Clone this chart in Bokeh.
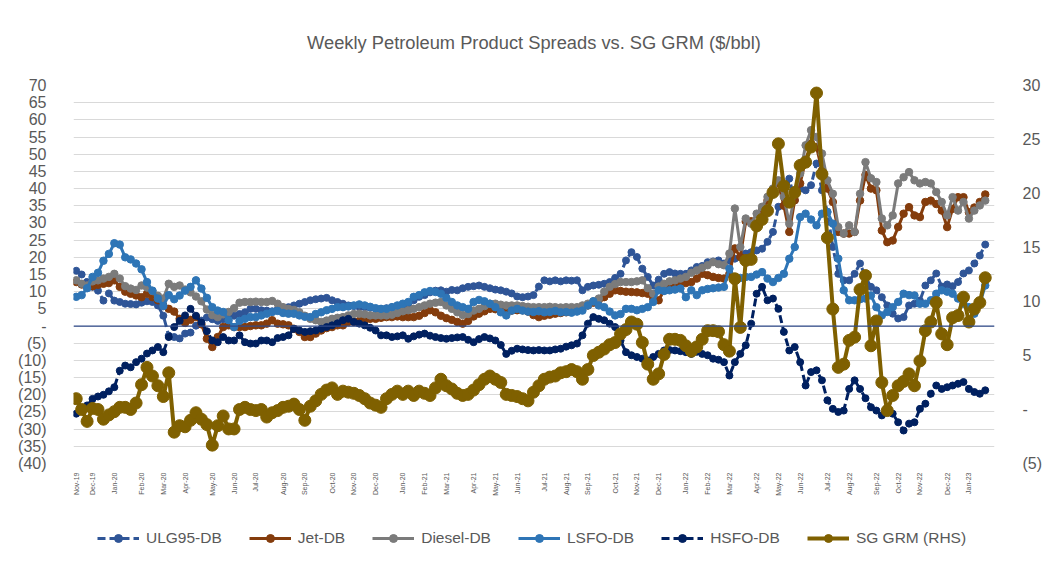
import numpy as np
import pandas as pd
from bokeh.plotting import figure
from bokeh.layouts import column
from bokeh.models import (Range1d, LinearAxis, FixedTicker, Span, Legend, LegendItem,
                          ColumnDataSource)
from bokeh.embed import file_html
from bokeh.resources import INLINE

# ---------------- data ----------------
start_date = "2019-11-13"
n_weeks = 168

month_labels = ["Nov-19", "Dec-19", "Jan-20", "Feb-20", "Mar-20", "Apr-20", "May-20", "Jun-20",
                "Jul-20", "Aug-20", "Sep-20", "Oct-20", "Nov-20", "Dec-20", "Jan-20", "Feb-21",
                "Mar-21", "Apr-21", "May-21", "Jun-21", "Jul-21", "Aug-21", "Sep-21", "Oct-21",
                "Nov-21", "Dec-21", "Jan-22", "Feb-22", "Mar-22", "Apr-22", "May-22", "Jun-22",
                "Jul-22", "Aug-22", "Sep-22", "Oct-22", "Nov-22", "Dec-22", "Jan-23"]

left_ticks = list(range(-40, 75, 5))
right_ticks = list(range(-5, 35, 5))

ulg95 = [16.1, 15.0, 12.8, 11.4, 10.3, 7.4, 9.5, 7.4, 7.0, 6.5,
         6.4, 6.3, 6.8, 7.2, 7.0, 6.0, 3.0, -2.8, -3.2, -3.6,
         -2.2, -1.9, 0.1, 1.6, 2.5, 2.0, 1.5, 2.0, 2.5, 3.0,
         3.5, 4.0, 5.0, 5.0, 4.6, 4.5, 4.3, 4.8, 5.0, 5.5,
         6.0, 6.5, 7.0, 7.5, 7.8, 8.0, 8.2, 7.5, 7.0, 6.5,
         6.0, 5.8, 5.6, 5.5, 5.3, 5.0, 5.0, 5.2, 5.5, 5.8,
         6.0, 6.3, 7.5, 8.5, 9.0, 9.8, 10.3, 10.4, 10.0, 10.5,
         10.4, 11.0, 11.4, 11.6, 11.8, 11.4, 11.0, 10.6, 10.4, 10.0,
         9.5, 8.6, 8.4, 8.6, 9.0, 11.5, 13.3, 13.0, 13.3, 13.0,
         13.3, 13.2, 13.3, 10.4, 11.4, 11.8, 12.0, 12.3, 12.8, 14.0,
         15.2, 19.1, 21.5, 20.1, 16.7, 14.3, 11.8, 13.5, 15.2, 15.7,
         15.3, 15.2, 15.2, 16.2, 17.2, 17.5, 18.6, 18.8, 19.1, 18.2,
         19.0, 19.6, 20.1, 21.1, 21.5, 22.0, 22.5, 24.5, 27.4, 34.7,
         35.1, 42.9, 36.6, 40.0, 39.5, 41.0, 47.3, 39.5, 33.2, 23.0,
         15.2, 13.3, 13.3, 15.2, 18.2, 14.3, 11.4, 10.4, 8.4, 6.0,
         3.6, 2.2, 2.6, 6.0, 6.5, 7.4, 11.8, 13.3, 15.3, 11.5,
         12.1, 11.6, 12.8, 15.3, 16.2, 18.2, 20.5, 23.7]

jet = [12.8, 12.1, 11.4, 11.6, 12.0, 12.3, 12.5, 13.3, 11.4, 10.0,
       9.4, 8.9, 8.4, 9.4, 8.4, 7.5, 6.0, 5.0, 4.2, 2.1,
       0.9, 1.8, 2.6, 0.5, -3.7, -6.1, -3.2, -0.3, 0.2, -0.3,
       -0.3, -0.3, 0.0, 0.2, 0.2, 0.7, 1.7, 0.7, 0.5, 0.2,
       -0.8, -1.7, -3.2, -3.2, -2.2, -1.3, -0.6, -0.3, 0.2, 0.2,
       1.2, 1.2, 1.5, 1.7, 2.1, 2.1, 2.4, 2.6, 2.6, 2.8,
       2.6, 2.6, 2.6, 3.0, 3.8, 4.6, 4.0, 3.0, 2.3, 1.8,
       1.2, 0.7, 1.5, 2.8, 3.6, 4.3, 5.0, 4.9, 4.7, 4.6,
       4.5, 4.6, 4.6, 4.2, 3.2, 2.6, 3.0, 3.3, 3.6, 3.8,
       4.0, 4.3, 4.6, 5.2, 6.0, 6.8, 7.6, 8.4, 9.4, 10.4,
       10.2, 10.0, 9.9, 9.8, 9.6, 9.4, 8.0, 7.5, 10.4, 11.0,
       11.6, 12.3, 12.5, 12.8, 13.8, 15.2, 14.8, 14.3, 14.0, 13.8,
       15.2, 22.6, 20.1, 30.5, 30.5, 29.8, 33.7, 36.6, 39.5, 41.5,
       35.0, 27.4, 36.6, 41.5, 48.3, 53.1, 52.1, 45.3, 40.0, 36.1,
       27.4, 26.9, 26.9, 27.4, 36.5, 44.0, 40.0, 39.5, 27.8, 24.4,
       24.9, 28.8, 32.7, 34.6, 32.2, 31.7, 36.1, 36.5, 35.5, 33.6,
       28.8, 34.1, 37.5, 37.5, 33.1, 34.5, 36.1, 38.3]

diesel = [13.3, 12.3, 11.8, 13.0, 13.3, 13.8, 14.3, 15.2, 13.8, 11.6,
          10.9, 10.5, 11.8, 11.2, 10.2, 8.8, 8.0, 12.3, 11.4, 11.8,
          10.6, 9.8, 8.6, 7.2, 4.8, 3.2, 2.6, 3.4, 4.1, 5.2,
          6.8, 7.0, 7.0, 7.1, 7.0, 7.0, 7.3, 6.5, 5.5, 5.0,
          4.7, 4.0, 3.0, 2.1, 1.7, 1.2, 1.6, 2.1, 2.4, 2.6,
          3.1, 3.5, 3.6, 3.4, 3.1, 3.1, 3.1, 3.1, 3.3, 3.8,
          4.3, 4.6, 5.0, 5.5, 6.0, 6.5, 6.8, 7.0, 6.0, 5.0,
          4.0, 3.2, 3.5, 4.5, 5.0, 5.8, 6.5, 6.5, 6.2, 6.0,
          6.0, 6.0, 5.8, 5.6, 5.5, 5.5, 5.5, 5.6, 5.5, 5.4,
          5.5, 5.5, 5.5, 6.0, 6.5, 7.2, 8.0, 10.0, 11.4, 12.2,
          12.8, 12.8, 12.8, 13.0, 13.3, 11.0, 9.4, 11.5, 12.3, 13.0,
          13.3, 13.8, 14.3, 15.5, 16.2, 17.0, 17.7, 18.6, 18.0, 17.7,
          21.1, 34.2, 23.0, 31.3, 29.8, 32.7, 34.7, 37.6, 40.0, 42.4,
          37.6, 29.8, 38.5, 44.4, 52.6, 57.0, 55.0, 50.2, 42.4, 38.5,
          28.8, 26.9, 29.3, 27.4, 38.5, 47.7, 43.0, 41.9, 31.3, 29.3,
          32.2, 41.5, 43.3, 44.8, 42.4, 41.5, 41.9, 41.5, 39.0, 36.1,
          32.2, 37.5, 33.6, 36.1, 31.3, 33.6, 35.1, 36.5]

lsfo = [8.5, 9.0, 11.0, 14.3, 15.5, 19.0, 21.0, 24.1, 23.7, 20.0,
        19.4, 18.2, 16.5, 12.8, 10.3, 8.0, 5.8, 9.0, 7.8, 8.9,
        10.3, 11.4, 13.3, 10.9, 8.2, 5.5, 4.5, 4.1, 1.7, -0.3,
        1.5, 2.1, 2.6, 2.6, 3.1, 3.6, 4.1, 4.4, 3.8, 3.6,
        3.6, 3.1, 2.7, 2.6, 3.5, 4.0, 4.6, 5.0, 5.5, 5.5,
        5.7, 6.0, 6.3, 6.0, 5.6, 5.2, 5.0, 5.0, 5.5, 6.0,
        6.5, 7.0, 8.5, 9.0, 9.8, 10.2, 9.9, 9.4, 8.2, 7.0,
        6.0, 5.5, 5.0, 7.0, 7.6, 7.2, 6.5, 5.5, 4.0, 3.1,
        4.5, 5.0, 4.5, 4.2, 4.1, 4.3, 4.0, 4.1, 4.4, 4.0,
        4.1, 3.9, 4.2, 4.5, 6.0, 7.2, 6.0, 5.5, 4.2, 3.1,
        3.5, 5.0, 5.0, 4.6, 5.0, 5.5, 7.0, 10.4, 10.2, 10.4,
        10.6, 10.9, 8.4, 10.4, 9.0, 10.4, 10.8, 11.0, 11.2, 11.4,
        16.7, 13.8, 14.0, 14.3, 14.3, 15.0, 15.7, 13.8, 12.8, 14.0,
        15.2, 19.6, 23.0, 31.7, 32.7, 31.0, 29.3, 32.7, 33.2, 29.8,
        19.6, 10.4, 7.5, 7.5, 7.8, 8.0, 8.9, 5.5, 3.1, 4.1,
        5.5, 7.0, 9.4, 9.0, 8.9, 6.5, 6.5, 7.5, 9.4, 10.4,
        10.0, 9.4, 8.0, 6.5, 5.5, 3.6, 6.5, 11.8]

hsfo = [-25.5, -24.1, -23.1, -21.2, -20.5, -20.0, -19.0, -17.8, -13.0, -11.5,
        -12.0, -10.5, -9.5, -8.0, -7.1, -6.1, -7.6, -3.2, -0.3, 1.5,
        3.1, 5.0, 3.0, 1.0, -1.5, -4.2, -4.7, -3.2, -4.2, -4.2,
        -2.7, -4.7, -5.1, -5.1, -4.2, -4.2, -4.7, -3.5, -3.2, -2.7,
        -0.8, -1.3, -1.7, -1.5, -1.3, -0.8, -0.3, 0.2, 0.8, 1.7,
        2.1, 1.2, 0.7, 0.2, -0.5, -1.3, -2.7, -2.7, -3.2, -3.0,
        -2.7, -3.7, -3.0, -2.5, -2.2, -2.8, -3.2, -3.5, -3.7, -3.5,
        -3.3, -3.2, -4.0, -4.7, -3.8, -3.2, -3.6, -4.2, -5.5, -8.1,
        -7.2, -6.6, -6.8, -7.0, -7.1, -7.0, -7.1, -7.1, -6.8, -6.6,
        -6.0, -5.6, -5.1, -2.7, 0.7, 2.6, 2.1, 1.7, 0.7, -0.3,
        -4.2, -7.6, -8.5, -9.0, -9.5, -10.0, -9.0, -8.1, -7.1, -7.0,
        -7.1, -7.3, -7.6, -8.1, -7.5, -8.1, -8.5, -9.5, -9.8, -10.5,
        -14.4, -10.5, -8.1, -5.6, 0.7, 9.4, 11.4, 7.5, 8.0, 5.0,
        -1.7, -7.1, -6.1, -10.5, -17.3, -13.4, -12.9, -15.8, -21.6, -24.1,
        -25.0, -24.6, -18.3, -15.8, -18.3, -21.0, -23.6, -24.6, -26.0, -24.6,
        -25.5, -28.0, -30.4, -28.4, -28.0, -24.1, -22.6, -19.7, -17.3, -18.3,
        -17.8, -17.3, -16.8, -16.3, -18.3, -19.2, -19.7, -18.7]

sg_grm = [1.0, 0.0, -1.1, 0.1, 0.0, -0.9, -0.5, -0.2, 0.2, 0.2,
          0.0, 0.6, 2.3, 3.9, 3.1, 2.2, 1.2, 3.4, -2.1, -1.5,
          -1.6, -1.0, -0.3, -0.9, -1.4, -3.3, -1.5, -0.6, -1.8, -1.8,
          0.0, 0.2, 0.0, -0.1, 0.0, -0.7, -0.3, -0.1, 0.2, 0.3,
          0.5, 0.0, -1.0, 0.3, 0.8, 1.4, 1.8, 2.0, 1.4, 1.7,
          1.6, 1.5, 1.3, 1.0, 0.6, 0.4, 0.2, 1.0, 1.4, 1.7,
          1.4, 1.7, 1.3, 1.7, 1.5, 1.3, 2.0, 2.8, 2.2, 1.9,
          1.5, 1.3, 1.4, 1.8, 2.3, 2.8, 3.1, 2.8, 2.5, 1.4,
          1.3, 1.2, 1.0, 0.8, 1.6, 2.2, 2.8, 3.0, 3.1, 3.4,
          3.5, 3.7, 3.5, 2.8, 3.7, 5.0, 5.3, 5.6, 6.0, 6.2,
          7.0, 7.4, 8.1, 7.9, 6.2, 4.2, 2.8, 3.3, 5.1, 6.5,
          6.5, 6.4, 5.9, 5.4, 5.8, 6.5, 7.3, 7.3, 7.2, 6.0,
          5.4, 12.1, 7.6, 13.8, 13.9, 17.0, 17.6, 18.4, 20.1, 24.6,
          20.7, 19.2, 20.1, 22.6, 22.9, 24.3, 29.3, 21.8, 15.9, 9.3,
          3.9, 4.2, 6.4, 6.7, 11.1, 12.4, 5.9, 8.2, 2.5, -0.1,
          1.3, 2.2, 2.6, 3.3, 2.2, 4.5, 7.3, 8.1, 9.9, 7.0,
          6.0, 8.5, 8.7, 10.4, 8.1, 9.3, 9.9, 12.2]

# ---------------- helpers ----------------
dates = pd.date_range(start_date, periods=n_weeks, freq="7D")
week_idx = list(range(n_weeks))

tick_positions = []
seen = set()
for i, d in enumerate(dates):
    key = (d.year, d.month)
    if key not in seen:
        seen.add(key)
        tick_positions.append(i)
x_overrides = {pos: lab for pos, lab in zip(tick_positions, month_labels)}


def acct(v):
    if v == 0:
        return "-"
    if v < 0:
        return "(%d)" % abs(v)
    return "%d" % v


src = ColumnDataSource(dict(x=week_idx, ulg=ulg95, jet=jet, diesel=diesel,
                            lsfo=lsfo, hsfo=hsfo, grm=sg_grm))

FONT = "Liberation Sans"
TXT = "#595959"

# ---------------- main chart ----------------
p = figure(width=1045, height=500, output_backend="svg", toolbar_location=None,
           x_range=Range1d(-0.5, 168.7), y_range=Range1d(-40, 70),
           min_border_left=73, min_border_right=49, min_border_top=85, min_border_bottom=37)
p.extra_y_ranges = {"rhs": Range1d(-5, 30)}
p.outline_line_color = None
p.background_fill_color = "white"
p.border_fill_color = "white"

p.title.text = "Weekly Petroleum Product Spreads vs. SG GRM ($/bbl)"
p.title.align = "center"
p.title.vertical_align = "top"
p.title.text_font = FONT
p.title.text_font_size = "18.3px"
p.title.text_font_style = "normal"
p.title.text_color = TXT
p.title.standoff = 61

p.yaxis.ticker = FixedTicker(ticks=left_ticks)
p.yaxis.major_label_overrides = {t: acct(t) for t in left_ticks}
p.xaxis.ticker = FixedTicker(ticks=tick_positions)
p.xaxis.major_label_overrides = x_overrides
p.xaxis.major_label_orientation = np.pi / 2

raxis = LinearAxis(y_range_name="rhs", ticker=FixedTicker(ticks=right_ticks))
raxis.major_label_overrides = {t: acct(t) for t in right_ticks}
p.add_layout(raxis, "right")

for ax in [p.xaxis[0], p.yaxis[0], raxis]:
    ax.axis_line_color = None
    ax.major_tick_line_color = None
    ax.minor_tick_line_color = None
    ax.major_tick_out = 0
    ax.major_tick_in = 0
    ax.minor_tick_out = 0
    ax.minor_tick_in = 0
    ax.major_label_text_color = TXT
    ax.major_label_text_font = FONT
p.yaxis[0].major_label_text_font_size = "16px"
p.yaxis[0].major_label_standoff = 27
raxis.major_label_text_font_size = "16px"
raxis.major_label_standoff = 28
p.xaxis[0].major_label_text_font_size = "7px"
p.xaxis[0].major_label_standoff = 9

p.xgrid.grid_line_color = None
p.ygrid.grid_line_color = "#D9D9D9"
p.ygrid.grid_line_width = 1

p.add_layout(Span(location=0, dimension="width", line_color="#2F4A8A", line_width=1.3))

series = [
    ("ULG95-DB", "ulg", "#2F5597", "8 4", 7, 3, "default"),
    ("Jet-DB", "jet", "#843C0C", "solid", 7.5, 3, "default"),
    ("Diesel-DB", "diesel", "#7B7B7B", "solid", 7.5, 3, "default"),
    ("LSFO-DB", "lsfo", "#2E75B6", "solid", 7.5, 3, "default"),
    ("HSFO-DB", "hsfo", "#002060", "8 4", 7, 3, "default"),
    ("SG GRM (RHS)", "grm", "#7F6000", "solid", 12, 4, "rhs"),
]

for label, col, color, dash, msize, lw, rng in series:
    p.line("x", col, source=src, line_color=color, line_width=lw, line_dash=dash,
           y_range_name=rng)
    p.scatter("x", col, source=src, marker="circle", size=msize, fill_color=color,
              line_color=color, y_range_name=rng)

# ---------------- legend strip ----------------
lf = figure(width=1045, height=64, output_backend="svg", toolbar_location=None,
            x_range=Range1d(0, 1), y_range=Range1d(0, 1),
            x_axis_type=None, y_axis_type=None, min_border=0,
            min_border_left=0, min_border_right=0, min_border_top=0, min_border_bottom=0)
lf.outline_line_color = None
lf.grid.grid_line_color = None
# legend-only proxies, placed outside the visible range
proxy = ColumnDataSource(dict(x=[5, 6], y=[5, 6]))
items = []
for label, col, color, dash, msize, lw, rng in series:
    r1 = lf.line("x", "y", source=proxy, line_color=color, line_width=lw, line_dash=dash)
    r2 = lf.scatter("x", "y", source=proxy, marker="circle", size=msize, fill_color=color,
                    line_color=color)
    items.append(LegendItem(label=label, renderers=[r1, r2]))

legend = Legend(items=items, orientation="horizontal", location=(24, 16),
                glyph_width=42, glyph_height=20, label_standoff=7, spacing=27,
                padding=4, margin=0, border_line_color=None, background_fill_alpha=0,
                label_text_font=FONT, label_text_font_size="15.5px", label_text_color=TXT)
lf.add_layout(legend)

layout = column(p, lf, spacing=0)
open("out.html", "w").write(file_html(layout, INLINE))
